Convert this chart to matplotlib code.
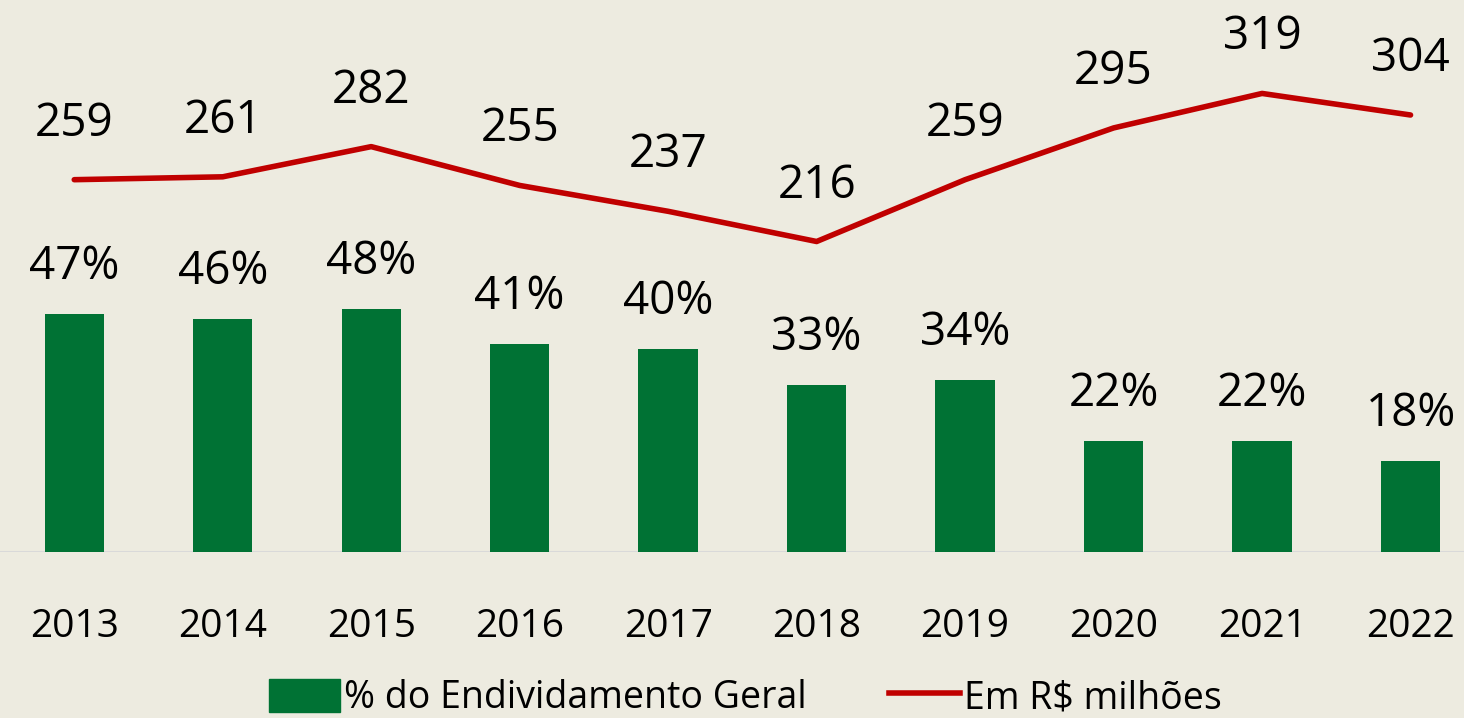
import matplotlib
matplotlib.use("Agg")
from matplotlib import pyplot as plt
from matplotlib.patches import Patch
from matplotlib.lines import Line2D

anos = ["2013", "2014", "2015", "2016", "2017", "2018", "2019", "2020", "2021", "2022"]
pct_endividamento = [47, 46, 48, 41, 40, 33, 34, 22, 22, 18]
em_milhoes = [259, 261, 282, 255, 237, 216, 259, 295, 319, 304]

fundo = "#EDEBE0"
verde = "#007234"
vermelho = "#C00000"

plt.rcParams["font.family"] = ["Open Sans", "DejaVu Sans"]

fig = plt.figure(figsize=(14.64, 7.18), dpi=100)
fig.patch.set_facecolor(fundo)

ax = fig.add_axes([0, 166 / 718, 1, 552 / 718])
ax.set_facecolor(fundo)
x = list(range(len(anos)))

ax.bar(x, pct_endividamento, width=0.4, color=verde, zorder=2)
ax.set_ylim(0, 109)
ax.set_xlim(-0.5, 9.36)
for i, v in zip(x, pct_endividamento):
    ax.annotate(f"{v}%", (i, v), xytext=(0, 47), textcoords="offset pixels",
                ha="center", va="center", fontsize=33, color="black")

ax2 = ax.twinx()
ax2.plot(x, em_milhoes, color=vermelho, lw=4, solid_capstyle="round", zorder=3)
ax2.set_ylim(0, 384)
for i, v in zip(x, em_milhoes):
    ax2.annotate(str(v), (i, v), xytext=(0, 56), textcoords="offset pixels",
                 ha="center", va="center", fontsize=33, color="black")

ax.axhline(0, color="#D9D9D9", lw=1.5, zorder=1)

for a in (ax, ax2):
    for s in a.spines.values():
        s.set_visible(False)
    a.set_yticks([])
    a.tick_params(length=0)
ax.set_xticks(x)
ax.set_xticklabels(anos, fontsize=28)
ax.tick_params(axis="x", pad=40)

handles = [Patch(color=verde, label="% do Endividamento Geral"),
           Line2D([], [], color=vermelho, lw=4, label="Em R$ milhões")]
fig.legend(handles=handles, loc="center", bbox_to_anchor=(0.509, 0.028),
           ncol=2, frameon=False, fontsize=27, handlelength=1.9,
           handleheight=1.0, handletextpad=0.1, columnspacing=2.2)

fig.savefig("out.png", dpi=100, facecolor=fundo)
